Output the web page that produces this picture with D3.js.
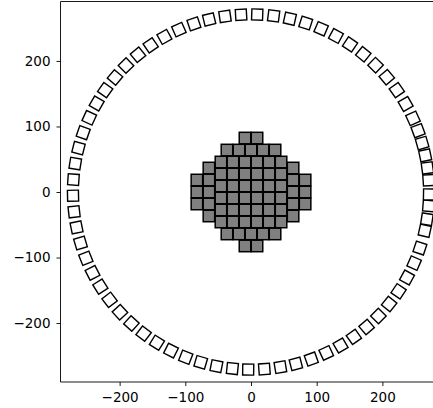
<!DOCTYPE html>
<html><head><meta charset="utf-8">
<script src="https://cdn.jsdelivr.net/npm/d3@7"></script>
<style>body{margin:0;background:#fff}svg{display:block}</style>
</head><body>
<script>
const xTicks = [-200, -100, 0, 100, 200];
const yTicks = [-200, -100, 0, 100, 200];
const innerX = [
  -45.75,-27.45,-9.15,9.15,27.45,45.75,
  -45.75,-27.45,-9.15,9.15,27.45,45.75,
  -45.75,-27.45,-9.15,9.15,27.45,45.75,
  -45.75,-27.45,-9.15,9.15,27.45,45.75,
  -45.75,-27.45,-9.15,9.15,27.45,45.75,
  -45.75,-27.45,-9.15,9.15,27.45,45.75,
  -64.05,-64.05,-64.05,-64.05,-64.05,
  64.05,64.05,64.05,64.05,64.05,
  -82.35,-82.35,-82.35, 82.35,82.35,82.35,
  -36.6,-18.3,0,18.3,36.6,
  -36.6,-18.3,0,18.3,36.6,
  -9.15,9.15, -9.15,9.15
];
const innerY = [
  45.75,45.75,45.75,45.75,45.75,45.75,
  27.45,27.45,27.45,27.45,27.45,27.45,
  9.15,9.15,9.15,9.15,9.15,9.15,
  -9.15,-9.15,-9.15,-9.15,-9.15,-9.15,
  -27.45,-27.45,-27.45,-27.45,-27.45,-27.45,
  -45.75,-45.75,-45.75,-45.75,-45.75,-45.75,
  -36.6,-18.3,0,18.3,36.6,
  -36.6,-18.3,0,18.3,36.6,
  -18.3,0,18.3, -18.3,0,18.3,
  64.05,64.05,64.05,64.05,64.05,
  -64.05,-64.05,-64.05,-64.05,-64.05,
  82.35,82.35, -82.35,-82.35
];
// outer ring: angle in degrees (counter-clockwise from +x), common radius
const ringAngle = [
  3.8,7.8,11.9,16.0,20.2,24.5,29.7,35.0,40.3,45.6,50.9,56.2,61.5,66.8,72.1,77.4,82.7,88.0,
  93.2,98.4,103.6,108.7,113.9,119.1,124.3,129.4,134.6,139.8,145.0,150.1,155.3,160.5,165.7,170.8,176.0,
  181.2,186.4,191.5,196.7,201.9,207.1,212.2,217.4,222.6,227.8,232.9,238.1,243.3,248.5,253.6,258.8,264.0,
  269.1,274.3,279.5,284.6,289.8,295.0,300.2,305.3,310.5,315.7,320.9,326.0,331.2,336.4,341.6,347.4,351.2,355.5,359.2
];
const ringRadius = 271;

const W = 433, H = 408;
const svg = d3.select("body").append("svg").attr("width", W).attr("height", H);
const x = d3.scaleLinear().domain([-290, 290]).range([60.5, 441.5]);
const y = d3.scaleLinear().domain([-290, 290]).range([382, 2]);

// ring
const ring = ringAngle.map(a => ({a, px: ringRadius*Math.cos(a*Math.PI/180), py: ringRadius*Math.sin(a*Math.PI/180)}));
const rs = 11;
svg.append("g").selectAll("rect").data(ring).join("rect")
  .attr("x", -rs/2).attr("y", -rs/2).attr("width", rs).attr("height", rs)
  .attr("transform", d => `translate(${x(d.px)},${y(d.py)}) rotate(${-d.a})`)
  .attr("fill", "#fff").attr("stroke", "#000").attr("stroke-width", 1.4);

// inner grid
const inner = innerX.map((v, i) => ({px: v, py: innerY[i]}));
const is = 11.5;
svg.append("g").selectAll("rect").data(inner).join("rect")
  .attr("x", d => x(d.px) - is/2).attr("y", d => y(d.py) - is/2)
  .attr("width", is).attr("height", is)
  .attr("fill", "#808080").attr("stroke", "#000").attr("stroke-width", 1.5);

// axes
const fontFam = "DejaVu Sans, sans-serif";
const xa = svg.append("g").attr("transform", `translate(0,382)`)
  .call(d3.axisBottom(x).tickValues(xTicks).tickSizeOuter(0).tickSize(4).tickPadding(6));
const ya = svg.append("g").attr("transform", `translate(60.5,0)`)
  .call(d3.axisLeft(y).tickValues(yTicks).tickSizeOuter(0).tickSize(4).tickPadding(6));
[xa, ya].forEach(g => {
  g.select(".domain").remove();
  g.selectAll("text").attr("font-family", fontFam).attr("font-size", 13.5).attr("fill", "#000");
  g.selectAll("line").attr("stroke", "#000").attr("stroke-width", 0.9);
});
// spines
const sp = svg.append("g").attr("stroke", "#000").attr("stroke-width", 0.9).attr("fill", "none");
sp.append("line").attr("x1", 60.5).attr("x2", 60.5).attr("y1", 1.5).attr("y2", 382);
sp.append("line").attr("x1", 60.5).attr("x2", 441.5).attr("y1", 382).attr("y2", 382);
sp.append("line").attr("x1", 60.5).attr("x2", 441.5).attr("y1", 1.5).attr("y2", 1.5);
sp.append("line").attr("x1", 441.5).attr("x2", 441.5).attr("y1", 1.5).attr("y2", 382);
</script>
</body></html>
